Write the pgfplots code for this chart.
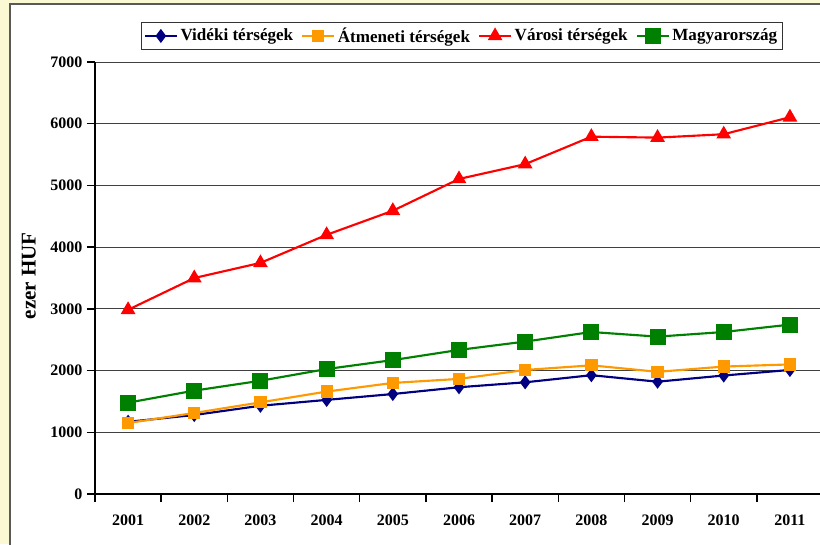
\documentclass[border=0pt]{standalone}
\usepackage{fontspec}
\setmainfont{Liberation Serif}
\usepackage{pgfplots}
\pgfplotsset{compat=1.18}
\definecolor{cream}{RGB}{251,248,212}
\definecolor{vblue}{RGB}{0,0,128}
\definecolor{vorange}{RGB}{255,153,0}
\definecolor{vred}{RGB}{255,0,0}
\definecolor{vgreen}{RGB}{0,128,0}

\begin{document}
\begin{tikzpicture}
% 1px = 0.75pt, origin at the lower left corner of the plot area
\clip (-71.25pt,-37.5pt) rectangle (543.75pt,370.5pt);
\fill[cream] (-71.25pt,-37.5pt) rectangle (543.75pt,370.5pt);
\filldraw[fill=white, draw=black!65, line width=0.8pt] (-63.75pt,-60pt) rectangle (600pt,367.5pt);
\begin{axis}[
    scale only axis,
    width=546pt, height=324pt,
    at={(0,0)}, anchor=south west,
    xmin=-0.5, xmax=10.5, ymin=0, ymax=7000,
    axis x line*=bottom, axis y line*=left,
    axis line style={black, line width=0.8pt},
    % ticks between the years; each label shifted half a category to the right
    xtick={-0.5,0.5,...,9.5},
    xticklabels={2001,2002,2003,2004,2005,2006,2007,2008,2009,2010,2011},
    x tick label style={xshift=24.82pt, yshift=-6pt},
    tick align=outside,
    ytick={0,1000,...,7000},
    major tick length=6pt,
    tick style={draw=black, line width=1.1pt},
    ymajorgrids, grid style={black!75, line width=0.6pt},
    scaled y ticks=false,
    /pgf/number format/1000 sep={},
    /pgf/number format/assume math mode=true,
    tick label style={font=\fontsize{12}{14}\selectfont\bfseries},
    ylabel={ezer HUF},
    every axis y label/.style={at={(axis description cs:-0.0907,0.505)}, rotate=90, anchor=center,
        font=\fontsize{15.75}{18}\selectfont\bfseries},
    legend columns=4,
    legend style={at={(axis description cs:0.504,1)}, anchor=south, yshift=9pt,
        draw=black!80, line width=0.6pt, font=\fontsize{12.8}{15}\selectfont\bfseries,
        inner xsep=2pt, inner ysep=2pt},
    legend image code/.code={\draw[mark repeat=2, mark phase=2] plot coordinates {(0cm,0cm) (0.42cm,0cm) (0.84cm,0cm)};},
    /tikz/every even column/.append style={column sep=4pt},
]
\addplot[vblue, line width=1.6pt, mark=diamond*, mark size=4pt, mark options={solid}] coordinates {
    (0,1170) (1,1280) (2,1430) (3,1525) (4,1620) (5,1730) (6,1810) (7,1925) (8,1820) (9,1920) (10,2010)
};
\addlegendentry{Vidéki térségek}
\addplot[vorange, line width=1.6pt, mark=square*, mark size=3.8pt] coordinates {
    (0,1150) (1,1313) (2,1485) (3,1660) (4,1800) (5,1865) (6,2010) (7,2085) (8,1980) (9,2065) (10,2100)
};
\addlegendentry{Átmeneti térségek}
\addplot[vred, line width=1.6pt, mark=triangle*, mark size=4.8pt] coordinates {
    (0,2985) (1,3500) (2,3745) (3,4200) (4,4590) (5,5105) (6,5345) (7,5790) (8,5775) (9,5830) (10,6105)
};
\addlegendentry{Városi térségek}
\addplot[vgreen, line width=1.6pt, mark=square*, mark size=5.2pt] coordinates {
    (0,1480) (1,1675) (2,1835) (3,2025) (4,2170) (5,2335) (6,2470) (7,2625) (8,2550) (9,2625) (10,2745)
};
\addlegendentry{Magyarország}
\end{axis}
\end{tikzpicture}
\end{document}
